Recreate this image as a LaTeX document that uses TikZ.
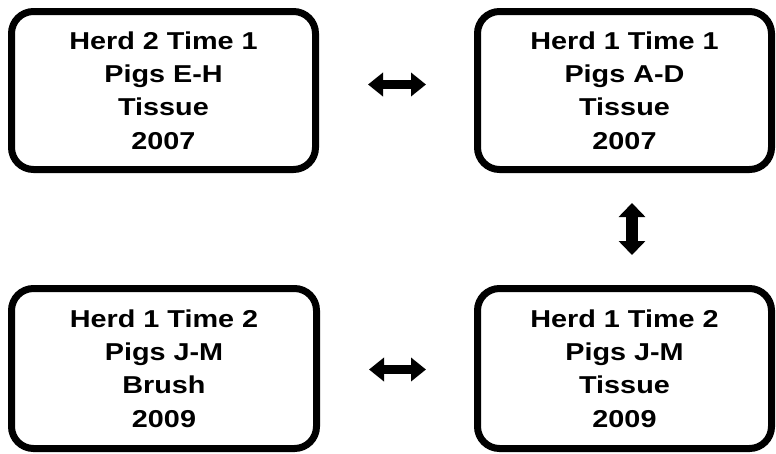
\documentclass[tikz,border=0pt]{standalone}
\usepackage{fontspec}
\setmainfont[FakeStretch=1.18]{Liberation Sans}
\usetikzlibrary{arrows.meta}
\tikzset{
  box/.style={draw=black, line width=7pt, rounded corners=22pt, fill=white,
    align=center, inner sep=0pt,
    font=\bfseries\fontsize{24.4}{33.3}\selectfont},
  harrow/.style={line width=9pt,
    {Triangle[length=15pt,width=23pt]}-{Triangle[length=15pt,width=23pt]}},
  varrow/.style={line width=12pt,
    {Triangle[length=14pt,width=26pt]}-{Triangle[length=14pt,width=26pt]}}
}
\begin{document}
\begin{tikzpicture}[x=1pt,y=-1pt]
\useasboundingbox (0,0) rectangle (776,453);
\node[box, minimum width=304pt, minimum height=158pt] (tl) at (163.5,90.5)
  {Herd 2 Time 1\\Pigs E-H\\Tissue\\2007};
\node[box, minimum width=294pt, minimum height=158pt] (tr) at (624.5,90.5)
  {Herd 1 Time 1\\Pigs A-D\\Tissue\\2007};
\node[box, minimum width=305pt, minimum height=160pt] (bl) at (164,368.5)
  {Herd 1 Time 2\\Pigs J-M\\Brush\\2009};
\node[box, minimum width=294pt, minimum height=160pt] (br) at (624.5,368.5)
  {Herd 1 Time 2\\Pigs J-M\\Tissue\\2009};
\draw[harrow, shorten <=49pt, shorten >=48pt] ([yshift=6pt]tl.east) -- ([yshift=6pt]tr.west);
\draw[harrow, shorten <=49pt, shorten >=48pt] ([yshift=-1pt]bl.east) -- ([yshift=-1pt]br.west);
\draw[varrow, shorten <=30pt, shorten >=30pt] ([xshift=7.5pt]tr.south) -- ([xshift=7.5pt]br.north);
\end{tikzpicture}
\end{document}
